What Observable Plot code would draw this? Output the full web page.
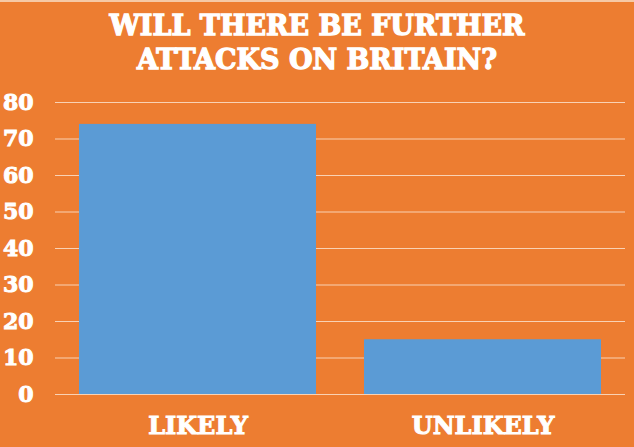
<!DOCTYPE html>
<html>
<head>
<meta charset="utf-8">
<script src="https://cdn.jsdelivr.net/npm/d3@7"></script>
<script src="https://cdn.jsdelivr.net/npm/@observablehq/plot@0.6"></script>
<style>
  html, body { margin: 0; padding: 0; background: #ED7D31; }
  #wrap { width: 634px; height: 447px; background: #ED7D31; overflow: hidden; border-top: 2px solid #F6C9A6; box-sizing: border-box; }
  #title { margin: 0; padding-top: 7px; height: 73px; box-sizing: border-box; color: #fff; text-align: center;
    font-family: "DejaVu Serif", serif; font-weight: bold; font-size: 27px; line-height: 34px;
    -webkit-text-stroke: 1.3px #fff; }
  svg { display: block; }
  #chart svg text { stroke: #fff; stroke-width: 1px; }
</style>
</head>
<body>
<div id="wrap">
  <div id="title">WILL THERE BE FURTHER<br>ATTACKS ON BRITAIN?</div>
  <div id="chart"></div>
</div>
<script>
const categories = ["LIKELY", "UNLIKELY"];
const values = [74, 15];
const yTicks = [0, 10, 20, 30, 40, 50, 60, 70, 80];

const data = categories.map((c, i) => ({category: c, value: values[i]}));

const chart = Plot.plot({
  width: 634,
  height: 372,
  marginTop: 27,
  marginBottom: 53,
  marginLeft: 55,
  marginRight: 9,
  style: {background: "transparent", color: "#fff", fontFamily: "DejaVu Serif, serif", fontWeight: "bold"},
  x: {domain: categories, paddingInner: 0.17, paddingOuter: 0.085, label: null, axis: null},
  y: {domain: [0, 80], ticks: yTicks, label: null, axis: null},
  marks: [
    Plot.gridY(yTicks, {stroke: "#F9D2B4", strokeOpacity: 1, strokeWidth: 1.2}),
    Plot.barY(data, {x: "category", y: "value", fill: "#5B9BD5"}),
    Plot.axisY(yTicks, {tickSize: 0, tickPadding: 22, fontSize: 22, fontWeight: "bold", fill: "#fff", label: null}),
    Plot.axisX(categories, {tickSize: 0, tickPadding: 22, fontSize: 24, fontWeight: "bold", fill: "#fff", label: null})
  ]
});
document.getElementById("chart").appendChild(chart);
</script>
</body>
</html>
